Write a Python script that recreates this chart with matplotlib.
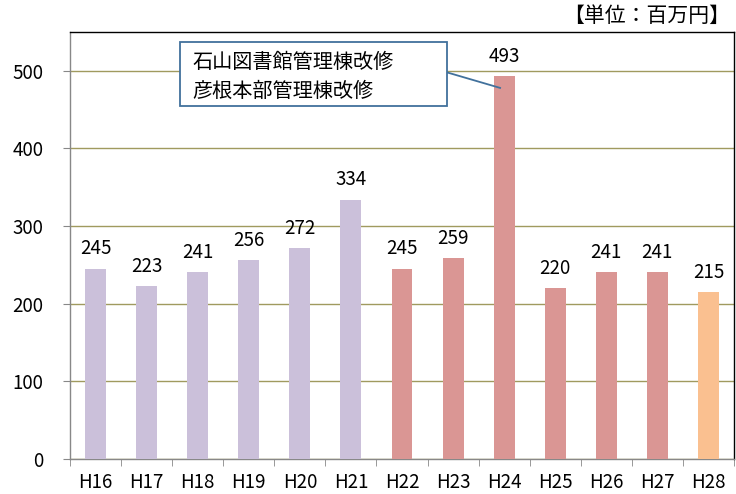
import numpy as np
import matplotlib.pyplot as plt
from matplotlib.patches import Rectangle

plt.rcParams['font.family'] = ['Noto Sans CJK JP', 'DejaVu Sans']

years = ['H16', 'H17', 'H18', 'H19', 'H20', 'H21', 'H22', 'H23', 'H24', 'H25', 'H26', 'H27', 'H28']
values = [245, 223, 241, 256, 272, 334, 245, 259, 493, 220, 241, 241, 215]
colors = ['#CBC0DA'] * 6 + ['#DA9694'] * 6 + ['#FAC090']
note = '石山図書館管理棟改修\n彦根本部管理棟改修'

fig = plt.figure(figsize=(7.36, 4.94), dpi=100)
ax = fig.add_axes([70 / 736, 1 - 459 / 494, 664 / 736, 427 / 494])

x = np.arange(len(years))
ax.bar(x, values, width=0.41, color=colors, zorder=3)
for xi, v in zip(x, values):
    ax.text(xi, v + 12, str(v), ha='center', va='bottom', fontsize=13.5)

ax.set_xlim(-0.5, len(years) - 0.5)
ax.set_ylim(0, 550)
ax.set_yticks(range(0, 600, 100))
ax.tick_params(axis='y', labelsize=13.5, length=5, color='#888888', pad=14)
ax.yaxis.grid(True, color='#A09A5F', linewidth=1, zorder=0)

ax.set_xticks(x)
ax.set_xticklabels(years, fontsize=13.5)
ax.set_xticks(np.arange(-0.5, len(years), 1), minor=True)
ax.tick_params(axis='x', which='major', length=0, pad=9)
ax.tick_params(axis='x', which='minor', length=5, color='#888888')

ax.spines['left'].set_color('#888888')
ax.spines['bottom'].set_color('#888888')
ax.spines['top'].set_color('black')
ax.spines['right'].set_color('black')
for s in ax.spines.values():
    s.set_linewidth(1)

# callout box and leader line
ax.plot([6.88, 7.92], [498, 478], color='#41719C', lw=1.3, zorder=5, clip_on=False)
ax.add_patch(Rectangle((1.65, 455), 6.88 - 1.65, 537 - 455, fc='white',
                       ec='#41719C', lw=1.3, zorder=6, clip_on=False))
ax.text(1.89, 492, note, fontsize=14.5, va='center', ha='left',
        linespacing=1.45, zorder=7)

fig.text(0.992, 0.99, '【単位：百万円】', ha='right', va='top', fontsize=15)

fig.savefig('out.png', dpi=100)
